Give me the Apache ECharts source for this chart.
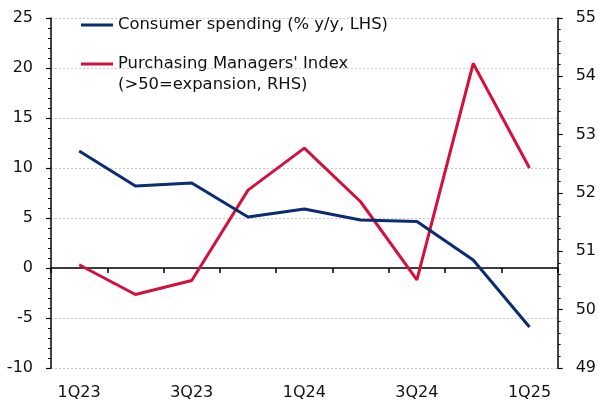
<!DOCTYPE html>
<html>
<head>
<meta charset="utf-8">
<script src="https://cdn.jsdelivr.net/npm/echarts@6/dist/echarts.min.js"></script>
<style>
  html, body { margin: 0; padding: 0; background: #fff; }
  #chart { width: 599px; height: 403px; }
</style>
</head>
<body>
<div id="chart"></div>
<script>
// Quarterly categories
const quarters = ['1Q23', '2Q23', '3Q23', '4Q23', '1Q24', '2Q24', '3Q24', '4Q24', '1Q25'];
// Consumer spending, % y/y (left axis)
const consumerSpending = [11.7, 8.2, 8.5, 5.1, 5.9, 4.8, 4.65, 0.8, -5.9];
// Purchasing Managers' Index (right axis)
const pmi = [50.77, 50.26, 50.50, 52.05, 52.77, 51.85, 50.51, 54.22, 52.43];

const spendingName = 'Consumer spending (% y/y, LHS)';
const pmiName = "Purchasing Managers' Index";
const pmiNote = '(>50=expansion, RHS)';

const BLUE = '#0b2c72';
const RED = '#d3113c';
const INK = '#111';
const FONT = 'DejaVu Sans';
const LEGEND_SIZE = 16.4;

const chart = echarts.init(document.getElementById('chart'), null, { renderer: 'canvas' });

chart.setOption({
  animation: false,
  backgroundColor: '#fff',
  textStyle: { fontFamily: FONT },
  grid: { left: 51, right: 40, top: 18, bottom: 35, containLabel: false },
  legend: {
    orient: 'vertical',
    left: 81,
    top: 15,
    padding: 0,
    itemWidth: 32,
    itemHeight: 3,
    itemGap: 19,
    icon: 'rect',
    data: [
      { name: spendingName, itemStyle: { color: BLUE } },
      { name: pmiName, itemStyle: { color: RED } }
    ],
    textStyle: { fontFamily: FONT, fontSize: LEGEND_SIZE, color: INK, lineHeight: 20 }
  },
  graphic: [
    {
      type: 'text',
      left: 118,
      top: 77,
      style: { text: pmiNote, font: LEGEND_SIZE + 'px "' + FONT + '"', fill: INK }
    }
  ],
  xAxis: [
    {
      type: 'category',
      data: quarters,
      position: 'bottom',
      boundaryGap: true,
      axisLine: { show: false, onZero: false },
      axisTick: { show: false },
      axisLabel: { interval: 1, color: INK, fontFamily: FONT, fontSize: 16, margin: 17 },
      splitLine: { show: false }
    },
    {
      type: 'category',
      data: quarters,
      position: 'bottom',
      boundaryGap: true,
      axisLine: { show: true, onZero: true, onZeroAxisIndex: 0, lineStyle: { color: '#000', width: 1.5 } },
      axisTick: { show: true, inside: false, length: 5, interval: 0, alignWithLabel: false, lineStyle: { color: '#000', width: 1.5 } },
      axisLabel: { show: false },
      splitLine: { show: false }
    }
  ],
  yAxis: [
    {
      type: 'value',
      position: 'left',
      min: -10,
      max: 25,
      interval: 5,
      axisLine: { show: true, lineStyle: { color: '#000', width: 1.5 } },
      axisTick: { show: true, length: 5, lineStyle: { color: '#000', width: 1.2 } },
      minorTick: { show: true, splitNumber: 5, length: 3, lineStyle: { color: '#000', width: 1 } },
      axisLabel: { color: INK, fontFamily: FONT, fontSize: 16, margin: 18 },
      splitLine: { show: true, lineStyle: { color: '#c8c8c8', type: [2, 2], width: 1 } }
    },
    {
      type: 'value',
      position: 'right',
      min: 49,
      max: 55,
      interval: 1,
      axisLine: { show: true, lineStyle: { color: '#000', width: 1.5 } },
      axisTick: { show: true, length: 5, lineStyle: { color: '#000', width: 1.2 } },
      minorTick: { show: true, splitNumber: 5, length: 3, lineStyle: { color: '#000', width: 1 } },
      axisLabel: { color: INK, fontFamily: FONT, fontSize: 16, margin: 18 },
      splitLine: { show: false }
    }
  ],
  series: [
    {
      name: spendingName,
      type: 'line',
      xAxisIndex: 0,
      yAxisIndex: 0,
      data: consumerSpending,
      symbol: 'none',
      lineStyle: { color: BLUE, width: 3 },
      itemStyle: { color: BLUE },
      z: 3
    },
    {
      name: pmiName,
      type: 'line',
      xAxisIndex: 0,
      yAxisIndex: 1,
      data: pmi,
      symbol: 'none',
      lineStyle: { color: RED, width: 3 },
      itemStyle: { color: RED },
      z: 2
    }
  ]
});
</script>
</body>
</html>
